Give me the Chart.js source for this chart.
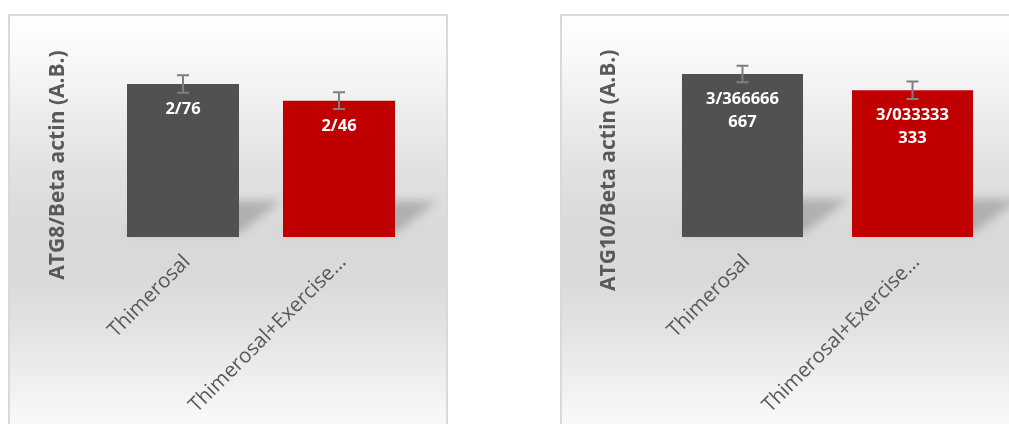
<!DOCTYPE html>
<html><head><meta charset="utf-8">
<script src="https://cdn.jsdelivr.net/npm/chart.js@4.4.0/dist/chart.umd.min.js"></script>
<style>
html,body{margin:0;padding:0;background:#fff;width:1009px;height:424px;overflow:hidden;}
.panel{position:absolute;top:14px;border:2px solid #d9d9d9;height:420px;
background:linear-gradient(to bottom,#ffffff 0px,#f5f5f5 60px,#e2e2e2 150px,#d9d9d9 215px,#d9d9d9 260px,#e4e4e4 320px,#f3f3f3 380px,#fafafa 410px);}
#p1{left:8px;width:436px;}
#p2{left:560px;width:460px;}
canvas{display:block;}
</style></head><body>
<div class="panel" id="p1"><canvas id="c1" width="436" height="420"></canvas></div>
<div class="panel" id="p2"><canvas id="c2" width="460" height="420"></canvas></div>
<script>
const categories = ["Thimerosal", "Thimerosal+Exercise..."];
const atg8Values = [2.76, 2.46];
const atg8Errors = [0.16, 0.15];
const atg8Labels = [["2/76"], ["2/46"]];
const atg10Values = [3.3667, 3.0333];
const atg10Errors = [0.17, 0.18];
const atg10Labels = [["3/366666", "667"], ["3/033333", "333"]];
const barColors = ["#515151", "#c00000"];

const shadowPlugin = {
  id: 'perspShadow',
  beforeDatasetsDraw(chart) {
    const o = chart.options.plugins.perspShadow;
    const ctx = chart.ctx;
    const meta = chart.getDatasetMeta(0);
    ctx.save();
    ctx.filter = 'blur(5px)';
    ctx.fillStyle = 'rgba(0,0,0,0.2)';
    meta.data.forEach(el => {
      const p = el.getProps(['x', 'y', 'base', 'width'], true);
      const l = p.x - p.width / 2, r = p.x + p.width / 2;
      ctx.beginPath();
      ctx.moveTo(l, p.base - 4);
      ctx.lineTo(r, p.base - 4);
      ctx.lineTo(r + o.dx, p.base - o.dy);
      ctx.lineTo(l + o.dx, p.base - o.dy);
      ctx.closePath();
      ctx.fill();
    });
    ctx.restore();
  }
};

const errLabelPlugin = {
  id: 'errLabels',
  afterDatasetsDraw(chart) {
    const o = chart.options.plugins.errLabels;
    const ctx = chart.ctx;
    const ys = chart.scales.y;
    const meta = chart.getDatasetMeta(0);
    const vals = chart.data.datasets[0].data;
    ctx.save();
    meta.data.forEach((el, i) => {
      const p = el.getProps(['x', 'y'], true);
      const top = ys.getPixelForValue(vals[i] + o.errors[i]);
      const bot = ys.getPixelForValue(vals[i] - o.errors[i]);
      ctx.strokeStyle = '#7f7f7f';
      ctx.lineWidth = 2;
      ctx.beginPath();
      ctx.moveTo(p.x, top); ctx.lineTo(p.x, bot);
      ctx.moveTo(p.x - 6, top); ctx.lineTo(p.x + 6, top);
      ctx.moveTo(p.x - 6, bot); ctx.lineTo(p.x + 6, bot);
      ctx.stroke();
      ctx.fillStyle = '#ffffff';
      ctx.font = 'bold 16.5px "Open Sans"';
      ctx.textAlign = 'center';
      ctx.textBaseline = 'middle';
      o.labels[i].forEach((line, j) => {
        ctx.fillText(line, p.x, p.y + 25.5 + j * 22.7);
      });
    });
    ctx.restore();
  }
};

const titleShiftPlugin = {
  id: 'titleShift',
  afterLayout(chart) {
    chart.scales.y.bottom += chart.options.plugins.titleShift.shift;
  }
};

function makeChart(id, title, values, errors, labels, c) {
  return new Chart(document.getElementById(id), {
    type: 'bar',
    data: {
      labels: categories,
      datasets: [{
        data: values,
        backgroundColor: barColors,
        borderWidth: 0,
        categoryPercentage: 1,
        barPercentage: c.barPct
      }]
    },
    options: {
      responsive: false,
      animation: false,
      events: [],
      layout: { padding: { top: c.padTop, right: c.padRight, left: 0, bottom: 0 } },
      plugins: {
        legend: { display: false },
        tooltip: { enabled: false },
        perspShadow: { dx: c.dx, dy: c.dy },
        errLabels: { errors: errors, labels: labels },
        titleShift: { shift: c.shift }
      },
      scales: {
        x: {
          grid: { display: false },
          border: { display: false },
          ticks: {
            minRotation: 45, maxRotation: 45, autoSkip: false,
            color: '#595959', padding: c.tickPad, labelOffset: c.labelOffset,
            font: { family: '"Open Sans"', size: 20.5 }
          },
          afterFit(s) { s.height = c.xHeight; }
        },
        y: {
          min: 0, max: c.yMax,
          grid: { display: false },
          border: { display: false },
          ticks: { display: false },
          title: {
            display: true, text: title, color: '#595959',
            font: { family: '"Open Sans"', size: 21, weight: 'bold' },
            padding: { top: c.titlePad, bottom: 0 }
          },
          afterFit(s) { s.width = c.yWidth; }
        }
      }
    },
    plugins: [shadowPlugin, errLabelPlugin, titleShiftPlugin]
  });
}

Promise.all([
  document.fonts.load('bold 16px "Open Sans"'),
  document.fonts.load('19px "Open Sans"'),
  document.fonts.load('bold 21px "Open Sans"')
]).catch(() => {}).then(() => {
  makeChart('c1', 'ATG8/Beta actin (A.B.)', atg8Values, atg8Errors, atg8Labels,
    { yMax: 3, padTop: 54.7, padRight: 29, yWidth: 95, xHeight: 199, barPct: 0.718,
      titlePad: 35, shift: 22.3, tickPad: 5, labelOffset: 4, dx: 42, dy: 36 });
  makeChart('c2', 'ATG10/Beta actin (A.B.)', atg10Values, atg10Errors, atg10Labels,
    { yMax: 3.5, padTop: 51.6, padRight: 24.5, yWidth: 95.5, xHeight: 199, barPct: 0.712,
      titlePad: 34.5, shift: 36, tickPad: 5, labelOffset: 4, dx: 46, dy: 38 });
});
</script>
</body></html>
